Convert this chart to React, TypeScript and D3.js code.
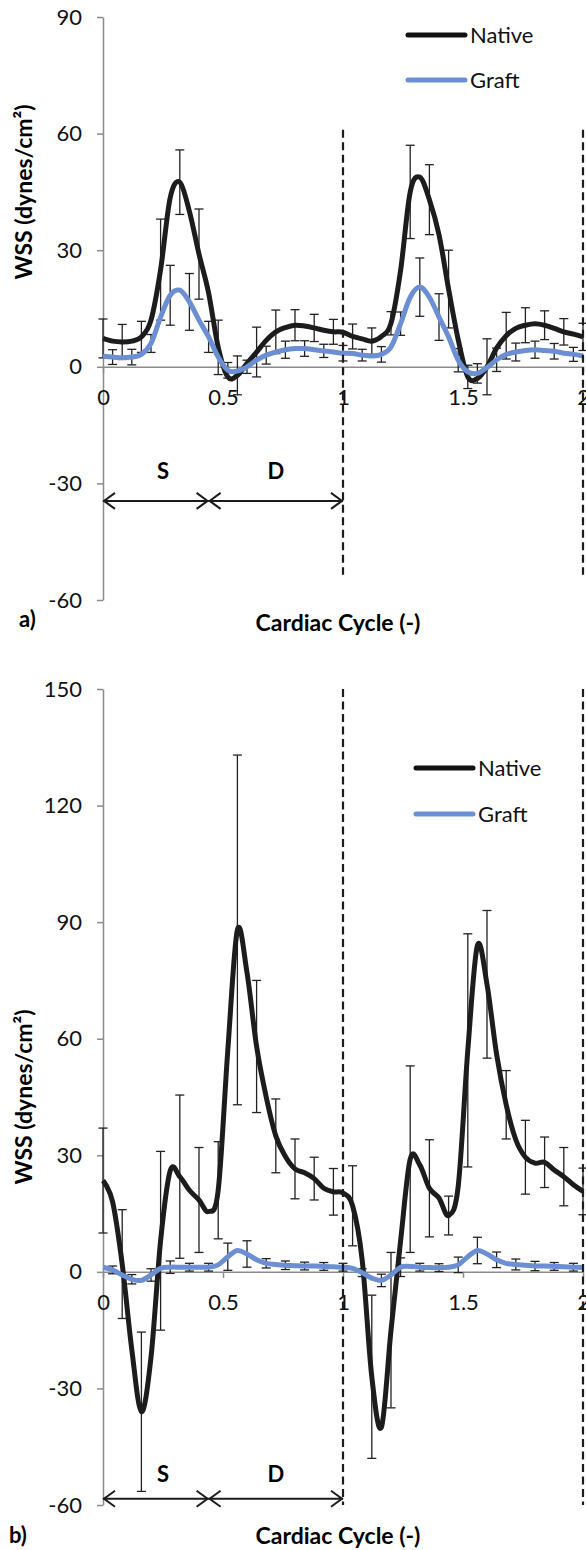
import React, { useEffect, useRef } from 'react';
import * as d3 from 'd3';

// sample times along two cardiac cycles
const time = [0, 0.04, 0.08, 0.12, 0.16, 0.2, 0.24, 0.28, 0.32, 0.36, 0.4, 0.44, 0.48, 0.52, 0.56, 0.6, 0.64, 0.68, 0.72, 0.76, 0.8, 0.84, 0.88, 0.92, 0.96, 1,
  1.04, 1.08, 1.12, 1.16, 1.2, 1.24, 1.28, 1.32, 1.36, 1.4, 1.44, 1.48, 1.52, 1.56, 1.6, 1.64, 1.68, 1.72, 1.76, 1.8, 1.84, 1.88, 1.92, 1.96, 2];

// panel a)
const nativeA = [7.3, 6.6, 6.4, 6.6, 7.7, 12, 25, 43.5, 47.5, 40, 29, 19, 5, -2.6, -2.2, 0.9, 3.8, 6.8, 9, 10.1, 10.7, 10.5, 10, 9.4, 9, 8.9,
  7.8, 7.2, 6.6, 7.8, 11.2, 24.8, 45, 48.8, 43, 34, 20, 7, -2.6, -3, 0, 4.8, 8, 9.9, 10.7, 11.1, 10.7, 9.9, 9, 8.4, 7.7];
const nativeErrA = [5, null, 4.5, null, 4, null, 13, null, 8.3, null, 11.6, null, 7, null, 5, null, 6.4, null, 5.6, null, 4, null, 3.5, null, 3.2, null,
  3.2, null, 3.4, null, 3, null, 12, null, 9, null, 10, null, 3, null, 7.2, null, 6, null, 4.5, null, 3.7, null, 3.4, null, 3.5];
const graftA = [2.7, 2.5, 2.3, 2.5, 3.2, 6, 12.8, 18.4, 19.7, 16.7, 12, 7.7, 2.5, -0.9, -1.1, 0, 1.7, 3, 3.8, 4.4, 4.7, 4.7, 4.4, 4.1, 3.8, 3.5,
  3.4, 3, 2.8, 3.2, 5.1, 11.1, 17.9, 20.5, 17.9, 12.8, 7.7, 1.7, -1.3, -1.7, -0.2, 1.8, 3.2, 3.8, 4.2, 4.4, 4.2, 4, 3.5, 3.2, 2.8];
const graftErrA = [null, 1.9, null, 2, null, 2.3, null, 7.7, null, 7.3, null, 4, null, 2, null, 1.7, null, 2.3, null, 2.2, null, 2, null, 1.7, null, 2,
  null, 1.5, null, 2, null, 3, null, 7.5, null, 6, null, 3, null, 2.5, null, 3, null, 2.3, null, 2.2, null, 2, null, 1.8, null];

// panel b)
const nativeB = [23.5, 18, 2, -20, -36, -22, 8, 26, 24.5, 21, 18.5, 15.5, 21, 57, 88, 77, 58, 45, 35, 29.7, 26.5, 25.5, 24, 21.5, 20.6, 20.3,
  17, 3, -27, -40, -15, 8, 29, 27.5, 21.5, 19, 14.5, 22, 57, 84, 74, 56, 43, 34, 29.5, 28, 28.2, 26.2, 24.5, 22.4, 20.7];
const nativeErrB = [13.5, null, 14, null, 20.5, null, 23, null, 21, null, 13.5, null, 12.5, null, 45, null, 17, null, 9.5, null, 7.7, null, 5.5, null, 6, null,
  10.3, null, 21, null, 20, null, 24, null, 12.5, null, 5, null, 30, null, 19, null, 8.8, null, 9.5, null, 6.5, null, 7.5, null, 6];
const graftB = [1.2, 0.5, -0.8, -1.9, -2.2, -0.8, 0.9, 1.2, 1.2, 1.2, 1.2, 1.2, 1.8, 3.9, 5.5, 4.6, 3.1, 2.2, 1.9, 1.7, 1.6, 1.5, 1.5, 1.4, 1.3, 1.2,
  0.9, -0.2, -1.6, -2.2, -0.8, 1.2, 1.4, 1.2, 1.1, 1.1, 1.2, 1.8, 3.9, 5.5, 4.6, 3.1, 2.2, 1.9, 1.7, 1.5, 1.5, 1.4, 1.3, 1.2, 1.1];
const graftErrB = [null, 1, null, 1.2, null, 1.6, null, 1.6, null, 1, null, 1, null, 3.5, null, 3.4, null, 1.2, null, 1.1, null, 1, null, 1, null, 1,
  null, 1, null, 1.6, null, 2.4, null, 1, null, 1, null, 2, null, 3.4, null, 2, null, 1.4, null, 1.2, null, 1, null, 1, null];

const xTicks = [0, 0.5, 1, 1.5, 2];
const yTicksA = [-60, -30, 0, 30, 60, 90];
const yTicksB = [-60, -30, 0, 30, 60, 90, 120, 150];
const cycleEnds = [1, 2];
const phaseBounds = [0, 0.44, 1];
const phaseNames = ['S', 'D'];
const seriesNames = ['Native', 'Graft'];

const FONT = 'Lato, "Open Sans", sans-serif';
const BLUE = '#6b8fd2';
const AXIS = '#8c8c8c';

const App = () => {
  const ref = useRef<SVGSVGElement>(null);

  useEffect(() => {
    const svg = d3.select(ref.current);
    svg.selectAll('*').remove();

    const x = d3.scaleLinear().domain([0, 2]).range([103, 583]);

    const panels = [
      {
        tag: 'a)', yDomain: [-60, 90], yRange: [600, 17], ticks: yTicksA,
        native: nativeA, nativeErr: nativeErrA, graft: graftA, graftErr: graftErrA,
        dash: [61, -53.5], arrowY: -34.5, labelY: -27, legendX: 408, legendY: [35, 80],
        yTitle: [24, 192], xTitleY: 631, tagPos: [19, 627],
      },
      {
        tag: 'b)', yDomain: [-60, 150], yRange: [1505, 689], ticks: yTicksB,
        native: nativeB, nativeErr: nativeErrB, graft: graftB, graftErr: graftErrB,
        dash: [150, -60], arrowY: -58.4, labelY: -52, legendX: 416, legendY: [768, 814],
        yTitle: [24, 1097], xTitleY: 1544, tagPos: [9, 1543],
      },
    ];

    panels.forEach(p => {
      const y = d3.scaleLinear().domain(p.yDomain).range(p.yRange);
      const g = svg.append('g');

      // y axis
      const yAxis = g.append('g')
        .attr('transform', `translate(${x(0)},0)`)
        .call(d3.axisLeft(y).tickValues(p.ticks).tickFormat(d => String(d)).tickSize(6).tickPadding(15).tickSizeOuter(0));
      // x axis on the zero line
      const xAxis = g.append('g')
        .attr('transform', `translate(0,${y(0)})`)
        .call(d3.axisBottom(x).tickValues(xTicks).tickFormat(d => String(d)).tickSize(6).tickPadding(17).tickSizeOuter(0));
      [yAxis, xAxis].forEach(ax => {
        ax.selectAll('path, line').attr('stroke', AXIS).attr('stroke-width', 1.5);
        ax.selectAll('text').attr('fill', '#111').style('font-size', '22px').style('font-family', FONT);
      });

      // axis titles
      g.append('text')
        .attr('transform', `translate(${p.yTitle[0]},${p.yTitle[1]}) rotate(-90)`)
        .attr('text-anchor', 'middle').attr('dy', '0.35em')
        .style('font-family', FONT).style('font-weight', 700).style('font-size', '23px')
        .text('WSS (dynes/cm²)');
      g.append('text')
        .attr('x', 338).attr('y', p.xTitleY).attr('text-anchor', 'middle')
        .style('font-family', FONT).style('font-weight', 700).style('font-size', '23px')
        .text('Cardiac Cycle (-)');
      g.append('text')
        .attr('x', p.tagPos[0]).attr('y', p.tagPos[1])
        .style('font-family', FONT).style('font-weight', 700).style('font-size', '22px')
        .text(p.tag);

      const line = d3.line<number>()
        .x((d, i) => x(time[i]))
        .y(d => y(d))
        .curve(d3.curveCardinal.tension(0));

      const drawErr = (vals: number[], errs: (number | null)[]) => {
        const eg = g.append('g').attr('stroke', '#222').attr('stroke-width', 1.3);
        vals.forEach((v, i) => {
          const e = errs[i];
          if (e == null) return;
          const cx = x(time[i]);
          eg.append('line').attr('x1', cx).attr('x2', cx).attr('y1', y(v - e)).attr('y2', y(v + e));
          [v - e, v + e].forEach(w => {
            eg.append('line').attr('x1', cx - 4.5).attr('x2', cx + 4.5).attr('y1', y(w)).attr('y2', y(w));
          });
        });
      };

      drawErr(p.native, p.nativeErr);
      g.append('path').datum(p.native)
        .attr('fill', 'none').attr('stroke', '#1c1c1c').attr('stroke-width', 5)
        .attr('stroke-linejoin', 'round').attr('d', line);
      drawErr(p.graft, p.graftErr);
      g.append('path').datum(p.graft)
        .attr('fill', 'none').attr('stroke', BLUE).attr('stroke-width', 5)
        .attr('stroke-linejoin', 'round').attr('d', line);

      // cycle boundaries
      cycleEnds.forEach(c => {
        g.append('line')
          .attr('x1', x(c)).attr('x2', x(c)).attr('y1', y(p.dash[0])).attr('y2', y(p.dash[1]))
          .attr('stroke', '#1c1c1c').attr('stroke-width', 2.2).attr('stroke-dasharray', '8,4.5');
      });

      // systole / diastole arrows
      const ay = y(p.arrowY);
      for (let k = 0; k < phaseNames.length; k++) {
        const x0 = x(phaseBounds[k]);
        const x1 = x(phaseBounds[k + 1]);
        const ag = g.append('g').attr('stroke', '#1c1c1c').attr('stroke-width', 2).attr('fill', 'none');
        ag.append('line').attr('x1', x0).attr('x2', x1).attr('y1', ay).attr('y2', ay);
        ag.append('path').attr('d', `M${x0 + 12},${ay - 8}L${x0 + 1},${ay}L${x0 + 12},${ay + 8}`);
        ag.append('path').attr('d', `M${x1 - 12},${ay - 8}L${x1 - 1},${ay}L${x1 - 12},${ay + 8}`);
        g.append('text')
          .attr('x', x((phaseBounds[k] + phaseBounds[k + 1]) / 2 - (k === 0 ? -0.03 : 0)))
          .attr('y', y(p.labelY)).attr('dy', '0.35em').attr('text-anchor', 'middle')
          .style('font-family', FONT).style('font-weight', 700).style('font-size', '22px')
          .text(phaseNames[k]);
      }

      // legend
      seriesNames.forEach((name, k) => {
        const ly = p.legendY[k];
        g.append('line')
          .attr('x1', p.legendX).attr('x2', p.legendX + 57).attr('y1', ly).attr('y2', ly)
          .attr('stroke', k === 0 ? '#111' : BLUE).attr('stroke-width', 5).attr('stroke-linecap', 'round');
        g.append('text')
          .attr('x', p.legendX + 62).attr('y', ly).attr('dy', '0.35em')
          .style('font-family', FONT).style('font-size', '22px').attr('fill', '#111')
          .text(name);
      });
    });
  }, []);

  return (
    <svg
      ref={ref}
      width={586}
      height={1550}
      style={{ position: 'absolute', left: 0, top: 0, background: '#fff' }}
    />
  );
};

export default App;
